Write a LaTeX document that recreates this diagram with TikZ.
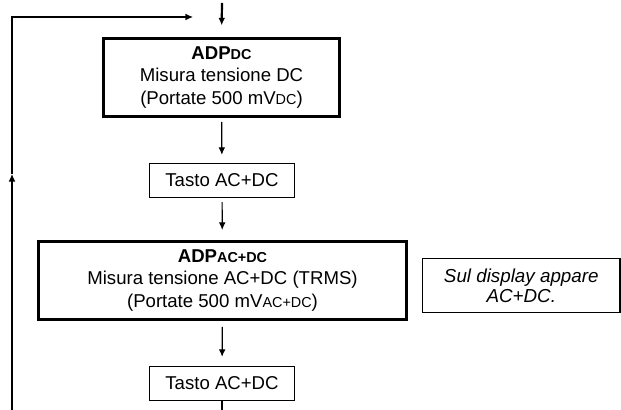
\documentclass[tikz,border=0pt]{standalone}
\usepackage{fontspec}
\setmainfont{Liberation Sans}
\usetikzlibrary{arrows.meta}

% small upper-case indices (DC, AC+DC)
\newcommand{\pedice}[1]{{\fontsize{7.2}{8}\selectfont #1}}

\tikzset{
  stato/.style={draw,line width=1.5pt,inner sep=0pt,align=center,
    minimum width=118pt,minimum height=39pt,
    font=\fontsize{9.3}{11.3}\selectfont},
  tasto/.style={draw,line width=0.6pt,inner sep=0pt,
    minimum width=72.5pt,minimum height=17pt,
    font=\fontsize{9.3}{11.3}\selectfont},
  nota/.style={draw,line width=0.6pt,inner sep=0pt,align=center,
    minimum width=98.7pt,minimum height=27pt,
    font=\fontsize{9.4}{9.8}\selectfont\itshape},
  freccia/.style={line width=0.6pt,-{Latex[length=3.8pt,width=3.4pt]}}
}

\begin{document}
\begin{tikzpicture}[x=0.5pt,y=-0.5pt]
    \useasboundingbox (0,0) rectangle (621,410);

    \node[stato] (adpdc) at (221.5,77.5)
      {\textbf{ADP\pedice{DC}}\\Misura tensione DC\\(Portate 500 mV\pedice{DC})};
    \node[tasto] (tasto1) at (222,180.5) {Tasto AC+DC};
    \node[stato,minimum width=184pt] (adpac) at (222.5,280.5)
      {\textbf{ADP\pedice{AC+DC}}\\Misura tensione AC+DC (TRMS)\\(Portate 500 mV\pedice{AC+DC})};
    \node[nota] (display) at (521.3,285.5) {Sul display appare\\AC+DC.};
    \node[tasto] (tasto2) at (222,383.5) {Tasto AC+DC};

    \coordinate (ingresso) at (222,3);
    \coordinate (uscita) at (222,410);
    \coordinate (ritorno) at (12,410);
    \coordinate (risale) at (12,174);
    \coordinate (rientro) at (193,17);

    % entry arrow
    \draw[freccia,line width=1.1pt,shorten >=5.8pt] (ingresso) -- (adpdc.north);

    % main chain
    \draw[freccia,shorten <=2pt,shorten >=4pt] (adpdc) -- (tasto1);
    \draw[freccia,shorten <=2pt,shorten >=5pt] (tasto1) -- (adpac);
    \draw[freccia,shorten <=3pt,shorten >=4.5pt] (adpac) -- (tasto2);
    \draw[line width=0.6pt] (tasto2) -- (uscita);

    % loop back to the top
    \draw[freccia] (ritorno) -- (risale);
    \draw[freccia] (risale) |- (rientro);
\end{tikzpicture}
\end{document}
